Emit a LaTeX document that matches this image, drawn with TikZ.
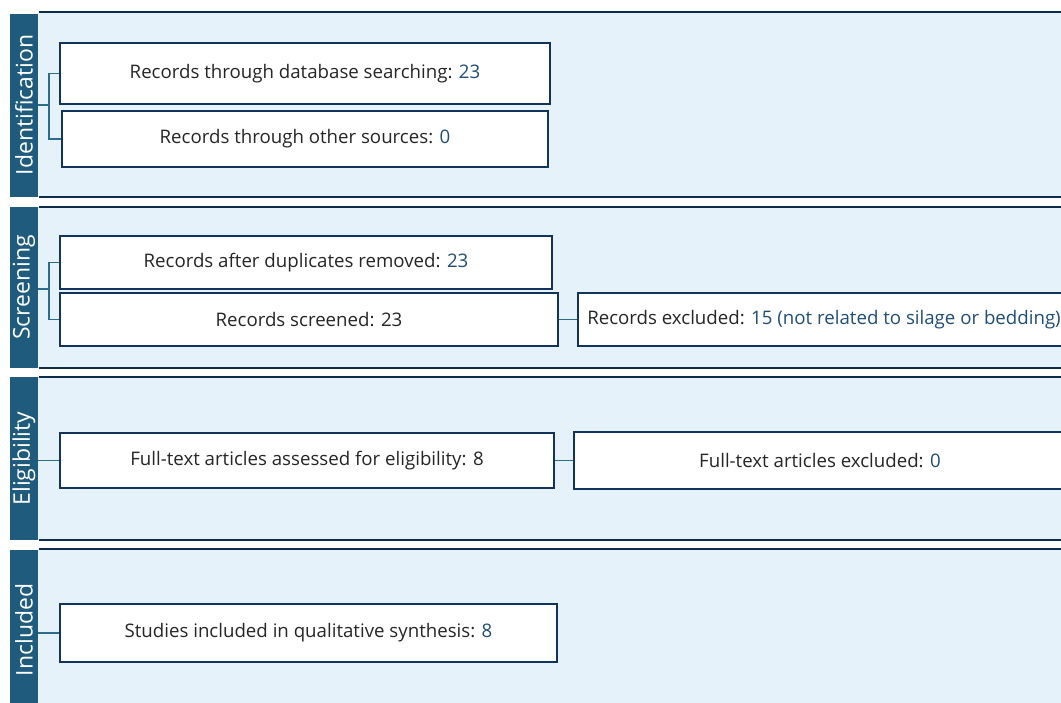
\documentclass[tikz,border=0pt]{standalone}
\usepackage{fontspec}
\setmainfont{Open Sans}
\newdimen\px \px=0.75pt
\definecolor{barblue}{HTML}{1E5B7D}
\definecolor{panelbg}{HTML}{E6F2FA}
\definecolor{rulecol}{HTML}{0E2D4A}
\definecolor{boxline}{HTML}{12335C}
\definecolor{numblue}{HTML}{1F4E79}
\definecolor{linkcol}{HTML}{2A6C8A}
\newcommand{\num}[1]{\textcolor{numblue}{#1}}
\tikzset{
  phasebar/.style={fill=barblue, draw=none, rotate=90, inner sep=0pt,
    minimum height=28\px, text=white, font=\fontsize{17.2}{20}\selectfont},
  recbox/.style={draw=boxline, line width=1.6\px, fill=white, inner sep=0pt,
    font=\fontsize{14}{17}\selectfont, text=black!85},
  link/.style={draw=linkcol, line width=1.6\px},
  rulel/.style={draw=rulecol, line width=1.8\px},
}
\begin{document}
\begin{tikzpicture}[x=0.75pt, y=-0.75pt]
\clip (0,0) rectangle (1061,703);
\fill[white] (0,0) rectangle (1061,703);

% phase panels
\fill[panelbg] (38,12) rectangle (1061,197);
\fill[panelbg] (38,207) rectangle (1061,368);
\fill[panelbg] (38,377) rectangle (1061,540);
\fill[panelbg] (38,549) rectangle (1061,710);
\foreach \y in {12,197,207,368,377,540,549}
  \draw[rulel] (39,\y) -- (1061,\y);

% phase labels
\node[phasebar, minimum width=183\px] (bar1) at (24,105) {Identification};
\node[phasebar, minimum width=161\px] (bar2) at (24,287.5) {Screening};
\node[phasebar, minimum width=163\px] (bar3) at (24,458.5) {Eligibility};
\node[phasebar, minimum width=160\px] (bar4) at (24,630) {Included};

% identification
\node[recbox, minimum width=490\px, minimum height=61\px] (id1) at (305,73.5)
  {Records through database searching: \num{23}};
\node[recbox, minimum width=486\px, minimum height=56\px] (id2) at (305,139)
  {Records through other sources: \num{0}};
\coordinate (jid) at (49,105);
\draw[link] (id1.west) -| (jid) |- (id2.west);
\draw[link] (bar1.south |- jid) -- (jid);

% screening
\node[recbox, minimum width=492\px, minimum height=53\px] (sc1) at (306,262.5)
  {Records after duplicates removed: \num{23}};
\node[recbox, minimum width=498\px, minimum height=53\px] (sc2) at (309,319.5)
  {Records screened: 23};
\node[recbox, minimum width=492\px, minimum height=53\px] (sc3) at (824,319.5)
  {Records excluded: \num{15 (not related to silage or bedding)}};
\coordinate (jsc) at (49,289);
\draw[link] (sc1.west) -| (jsc) |- (sc2.west);
\draw[link] (bar2.south |- jsc) -- (jsc);
\draw[link] (sc2.east) -- (sc3.west);

% eligibility
\node[recbox, minimum width=494\px, minimum height=55\px] (el1) at (307,460.5)
  {Full-text articles assessed for eligibility: 8};
\node[recbox, minimum width=492\px, minimum height=57\px] (el2) at (820,460.5)
  {Full-text articles excluded: \num{0}};
\draw[link] (bar3.south |- el1.west) -- (el1.west);
\draw[link] (el1.east) -- (el2.west);

% included
\node[recbox, minimum width=497\px, minimum height=58\px] (in1) at (308.5,633)
  {Studies included in qualitative synthesis: \num{8}};
\draw[link] (bar4.south |- in1.west) -- (in1.west);
\end{tikzpicture}
\end{document}
